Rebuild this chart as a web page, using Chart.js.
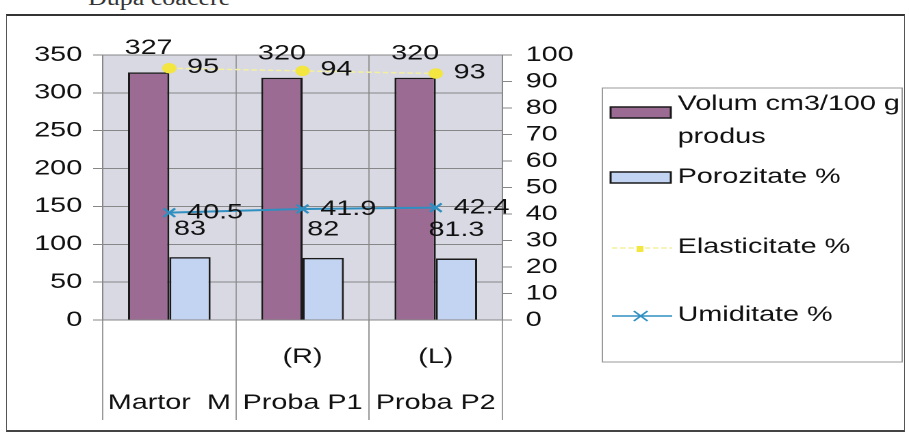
<!DOCTYPE html>
<html>
<head>
<meta charset="utf-8">
<script src="https://cdn.jsdelivr.net/npm/chart.js@4.4.1/dist/chart.umd.min.js"></script>
<style>
  body { margin: 0; width: 909px; height: 442px; overflow: hidden; background: #fff; position: relative; }
  #antet { position: absolute; left: 88px; top: -12px; font: 20px/20px 'Liberation Serif', serif; color: #333; transform: scaleX(1.3); transform-origin: 0 0; }
  #rama { position: absolute; left: 6px; top: 14px; width: 897px; height: 414px; border: 1px solid #555; border-top: 2px solid #333; border-bottom: 2px solid #444; }
  #grafic { position: absolute; left: 0; top: 0; transform: scaleX(1.369); transform-origin: 0 0; }
</style>
</head>
<body>
<div id="antet">Dupa coacere</div>
<div id="rama"></div>
<canvas id="grafic" width="664" height="442"></canvas>
<script>
// datele graficului
const categorii = [['', 'Martor  M'], ['(R)', 'Proba P1'], ['(L)', 'Proba P2']];
const volum = [327, 320, 320];
const porozitate = [83, 82, 81.3];
const elasticitate = [95, 94, 93];
const umiditate = [40.5, 41.9, 42.4];
const ticksStanga = [0, 50, 100, 150, 200, 250, 300, 350];
const ticksDreapta = [0, 10, 20, 30, 40, 50, 60, 70, 80, 90, 100];

const FONT = "'Liberation Sans', Arial, sans-serif";
const culoareVolum = '#9b6b93';
const culoarePorozitate = '#c3d3f2';
const culoareElast = '#f3e640';
const culoareUmid = '#2f8fc0';

// fundalul zonei de grafic
const fundal = {
    id: 'fundal',
    beforeDraw(chart) {
        const { ctx, chartArea: a } = chart;
        ctx.save();
        ctx.fillStyle = '#d8d9e3';
        ctx.fillRect(a.left, a.top, a.right - a.left, a.bottom - a.top);
        ctx.restore();
    }
};

// etichetele cu valori
const etichete = {
    id: 'etichete',
    afterDatasetsDraw(chart) {
        const ctx = chart.ctx;
        ctx.save();
        ctx.font = '21px ' + FONT;
        ctx.fillStyle = '#111';
        ctx.textBaseline = 'middle';
        chart.data.datasets.forEach((ds, i) => {
            const meta = chart.getDatasetMeta(i);
            meta.data.forEach((el, j) => {
                const v = String(ds.data[j]);
                if (i === 0) { ctx.textAlign = 'center'; ctx.fillText(v, el.x, el.y - 24); }
                if (i === 1) { ctx.textAlign = 'center'; ctx.fillText(v, el.x, el.y - 28); }
                if (i === 2) { ctx.textAlign = 'left'; ctx.fillText(v, el.x + 13, el.y - 1); }
                if (i === 3) { ctx.textAlign = 'left'; ctx.fillText(v, el.x + 13, el.y); }
            });
        });
        ctx.restore();
    }
};

// legenda desenata manual (caseta din dreapta)
const legenda = {
    id: 'legenda',
    afterDraw(chart) {
        const ctx = chart.ctx;
        const ds = chart.data.datasets;
        ctx.save();
        ctx.strokeStyle = '#999';
        ctx.lineWidth = 1;
        ctx.strokeRect(440, 88, 219, 274);
        ctx.font = '21px ' + FONT;
        ctx.fillStyle = '#111';
        ctx.textAlign = 'left';
        ctx.textBaseline = 'alphabetic';

        // Volum
        ctx.fillStyle = ds[0].backgroundColor;
        ctx.fillRect(446, 107, 44, 11);
        ctx.strokeStyle = '#1a1a1a'; ctx.lineWidth = 1.5;
        ctx.strokeRect(446, 107, 44, 11);
        ctx.fillStyle = '#111';
        const cuv = ds[0].label.split(' ');
        ctx.fillText(cuv.slice(0, 3).join(' '), 495, 110);
        ctx.fillText(cuv.slice(3).join(' '), 495, 143);

        // Porozitate
        ctx.fillStyle = ds[1].backgroundColor;
        ctx.fillRect(446, 172, 44, 11);
        ctx.strokeRect(446, 172, 44, 11);
        ctx.fillStyle = '#111';
        ctx.fillText(ds[1].label, 495, 183);

        // Elasticitate
        ctx.strokeStyle = '#f4f0a0'; ctx.lineWidth = 1.5;
        ctx.setLineDash([4, 2]);
        ctx.beginPath(); ctx.moveTo(447, 248); ctx.lineTo(491, 248); ctx.stroke();
        ctx.setLineDash([]);
        ctx.fillStyle = culoareElast;
        ctx.fillRect(465, 246, 5, 6);
        ctx.fillStyle = '#111';
        ctx.fillText(ds[2].label, 495, 253);

        // Umiditate
        ctx.strokeStyle = culoareUmid; ctx.lineWidth = 1.5;
        ctx.beginPath(); ctx.moveTo(447, 316); ctx.lineTo(491, 316); ctx.stroke();
        ctx.beginPath();
        ctx.moveTo(463, 311); ctx.lineTo(473, 321);
        ctx.moveTo(473, 311); ctx.lineTo(463, 321);
        ctx.stroke();
        ctx.fillText(ds[3].label, 495, 321);
        ctx.restore();
    }
};

const ctx = document.getElementById('grafic').getContext('2d');
const grafic = new Chart(ctx, {
    type: 'bar',
    data: {
        labels: categorii,
        datasets: [
            {
                label: 'Volum cm3/100 g produs',
                data: volum,
                yAxisID: 'yL',
                backgroundColor: culoareVolum,
                borderColor: '#1a1a1a',
                borderWidth: 1.5,
                categoryPercentage: 0.62,
                barPercentage: 1.0,
                order: 2
            },
            {
                label: 'Porozitate %',
                data: porozitate,
                yAxisID: 'yL',
                backgroundColor: culoarePorozitate,
                borderColor: '#1a1a1a',
                borderWidth: 1.5,
                categoryPercentage: 0.62,
                barPercentage: 1.0,
                order: 2
            },
            {
                type: 'line',
                label: 'Elasticitate %',
                data: elasticitate,
                yAxisID: 'yR',
                borderColor: '#f4f0a0',
                borderWidth: 1.5,
                borderDash: [4, 2],
                pointStyle: 'circle',
                pointRadius: 4.5,
                pointBackgroundColor: culoareElast,
                pointBorderColor: culoareElast,
                order: 0
            },
            {
                type: 'line',
                label: 'Umiditate %',
                data: umiditate,
                yAxisID: 'yR',
                borderColor: culoareUmid,
                borderWidth: 2,
                pointStyle: 'crossRot',
                pointRadius: 6,
                pointBorderColor: culoareUmid,
                pointBorderWidth: 2,
                order: 0
            }
        ]
    },
    options: {
        responsive: false,
        animation: false,
        devicePixelRatio: 2,
        layout: { padding: { top: 55, bottom: 22, left: 0, right: 237 } },
        plugins: {
            legend: { display: false },
            tooltip: { enabled: false }
        },
        scales: {
            x: {
                offset: true,
                grid: { offset: true, color: '#9a9a9a', tickLength: 100, lineWidth: 1 },
                border: { display: false },
                ticks: {
                    color: '#111',
                    font: { family: FONT, size: 21, lineHeight: 2.2 },
                    padding: -86,
                    maxRotation: 0,
                    autoSkip: false
                },
                afterFit: s => { s.height = 100; }
            },
            yL: {
                position: 'left',
                min: 0,
                max: 350,
                afterBuildTicks: s => { s.ticks = ticksStanga.map(v => ({ value: v })); },
                grid: { color: '#878787', tickLength: 7 },
                border: { color: '#878787' },
                ticks: { color: '#111', font: { family: FONT, size: 21 }, padding: 8, autoSkip: false },
                afterFit: s => { s.width = 75; }
            },
            yR: {
                position: 'right',
                min: 0,
                max: 100,
                afterBuildTicks: s => { s.ticks = ticksDreapta.map(v => ({ value: v })); },
                grid: { drawOnChartArea: false, color: '#878787', tickLength: 7 },
                border: { color: '#878787' },
                ticks: { color: '#111', font: { family: FONT, size: 21 }, padding: 10, autoSkip: false },
                afterFit: s => { s.width = 60; }
            }
        }
    },
    plugins: [fundal, etichete, legenda]
});
</script>
</body>
</html>
